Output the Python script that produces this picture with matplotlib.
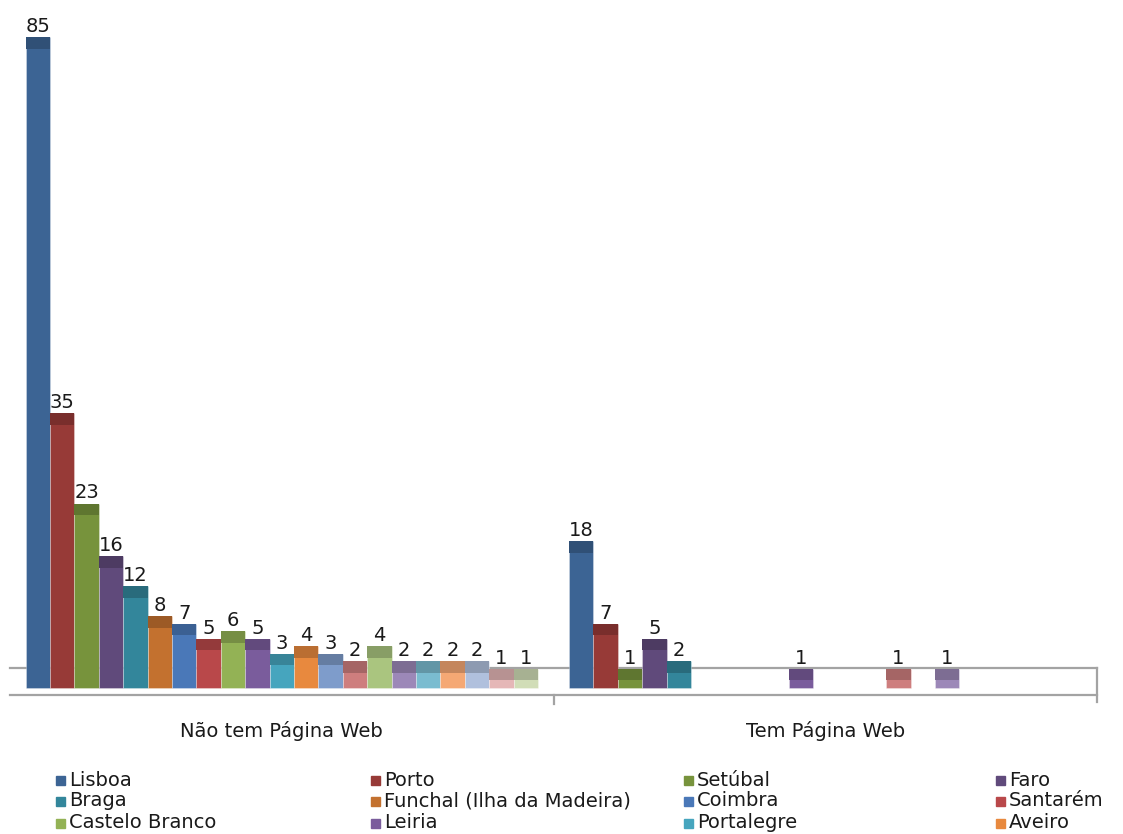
import numpy as np
import matplotlib.pyplot as plt
from matplotlib.patches import Rectangle
from matplotlib.colors import to_rgb

# Districts, one series each (only the first 12 fit in the legend)
groups = ["Não tem Página Web", "Tem Página Web"]
names = ["Lisboa", "Porto", "Setúbal", "Faro",
         "Braga", "Funchal (Ilha da Madeira)", "Coimbra", "Santarém",
         "Castelo Branco", "Leiria", "Portalegre", "Aveiro"]

sem_pagina = [85, 35, 23, 16, 12, 8, 7, 5, 6, 5, 3, 4, 3, 2, 4, 2, 2, 2, 2, 1, 1]
com_pagina = [18, 7, 1, 5, 2, 0, 0, 0, 0, 1, 0, 0, 0, 1, 0, 1, 0, 0, 0, 0, 0]

colors = ["#3C6494", "#973A37", "#77933C", "#604A7B", "#33869B", "#C3712F",
          "#4A78B8", "#B9484A", "#93B255", "#7A5C9C", "#46A5BE", "#E8893E",
          "#7E9CCB", "#CE7E7E", "#AAC57F", "#9C88B8", "#7ABCD0", "#F5A874",
          "#B0C0DD", "#E5B7B7", "#D1DDB7"]

W, H = 1123, 834
fig = plt.figure(figsize=(W / 100, H / 100), dpi=100)
plt.rcParams['font.family'] = ['DejaVu Sans']

# axes placed in pixel terms: 0 at y=688, 7.52 px per unit
px = 7.52
y0, y1 = -2, 89
x_left, x_right = 10, 1097
bot_px = 688 - y0 * px
top_px = 688 - y1 * px
ax = fig.add_axes([x_left / W, 1 - bot_px / H, (x_right - x_left) / W, (bot_px - top_px) / H])
ax.set_xlim(0, 2)
ax.set_ylim(y0, y1)
ax.axis('off')

n = len(sem_pagina)
bw = 24.4 / ((x_right - x_left) / 2)   # bar width in category units
cap = 11.5 / px                        # depth of the top face

# floor of the 3D plot
floor_top = (688 - 668) / px
floor_bot = (688 - 695) / px
lc = "#a3a3a3"
ax.plot([0, 2], [floor_top, floor_top], color=lc, lw=1.6, zorder=1, clip_on=False)
ax.plot([0, 2], [floor_bot, floor_bot], color=lc, lw=1.6, zorder=1, clip_on=False)
ax.plot([2, 2], [floor_top, (688 - 702) / px], color=lc, lw=1.6, zorder=1, clip_on=False)
ax.plot([1, 1], [floor_bot, (688 - 704) / px], color=lc, lw=1.6, zorder=1, clip_on=False)

for g, vals in enumerate([sem_pagina, com_pagina]):
    start = g + 0.5 - n * bw / 2
    for i, v in enumerate(vals):
        if v == 0:
            continue
        x = start + i * bw
        c = np.array(to_rgb(colors[i]))
        # front face plus top face, then the darker top drawn over it
        ax.bar(x, v + cap, bw, bottom=0, align='edge', color=c, edgecolor=(1, 1, 1, 0.35),
               lw=0.6, zorder=3)
        ax.bar(x, cap, bw, bottom=v, align='edge', color=c * 0.8, lw=0, zorder=3)
        ax.text(x + bw / 2, v + cap + 0.15, str(v), ha='center', va='bottom',
                fontsize=14, color="#1a1a1a", zorder=4)

# category labels
for g, name in enumerate(groups):
    fig.text((x_left + (g + 0.5) * (x_right - x_left) / 2) / W, 1 - 731 / H, name,
             ha='center', va='center', fontsize=14, color="#1a1a1a")

# legend, filled row by row
col_x = [56, 371, 684, 996]
row_y = [780, 801, 823]
for k, name in enumerate(names):
    r, c = divmod(k, 4)
    mx, my = col_x[c], row_y[r]
    fig.patches.append(Rectangle((mx / W, 1 - (my + 4.5) / H), 9 / W, 9 / H,
                                 transform=fig.transFigure, color=colors[k]))
    fig.text((mx + 13) / W, 1 - my / H, name, ha='left', va='center',
             fontsize=14, color="#1a1a1a")

fig.savefig("out.png", dpi=100)
